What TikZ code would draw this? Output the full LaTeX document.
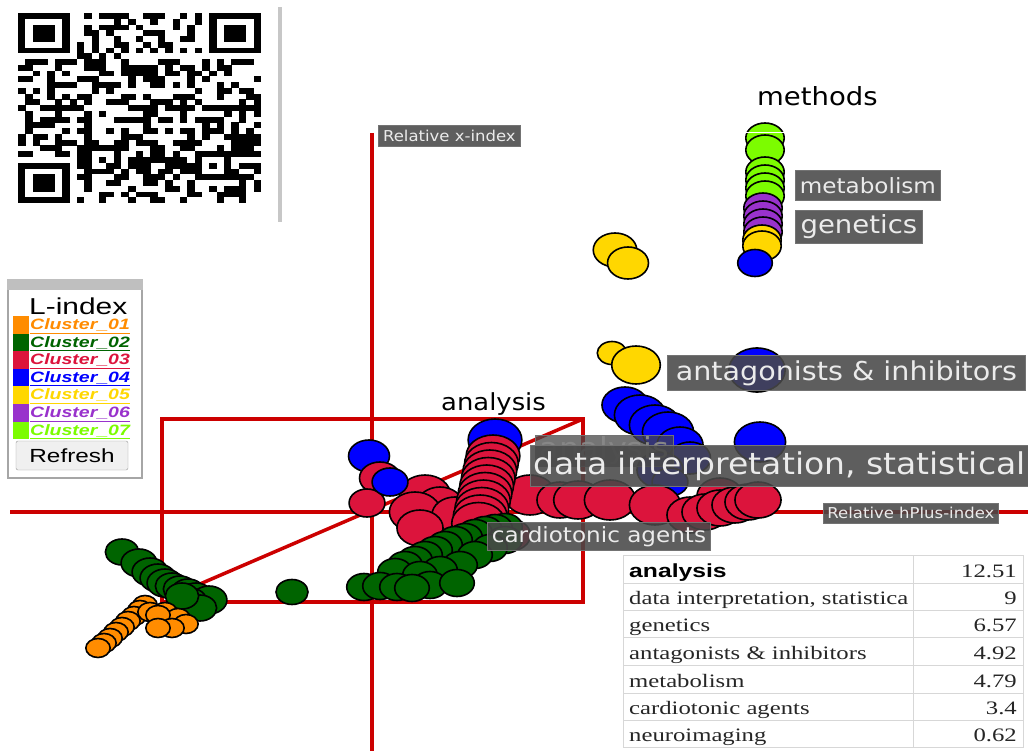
\documentclass[tikz,border=0pt]{standalone}
\usepackage{fontspec}
\usepackage{graphicx}
\newfontfamily\lab{DejaVu Sans}
\newfontfamily\ars{Liberation Sans}
\newfontfamily\tms{Liberation Serif}
\definecolor{cA}{RGB}{255,140,0}
\definecolor{cB}{RGB}{0,100,0}
\definecolor{cC}{RGB}{220,20,60}
\definecolor{cD}{RGB}{0,0,255}
\definecolor{cE}{RGB}{255,215,0}
\definecolor{cF}{RGB}{153,50,204}
\definecolor{cG}{RGB}{124,252,0}
\definecolor{axred}{RGB}{204,0,0}
\definecolor{boxgray}{RGB}{72,72,72}
\definecolor{tblline}{RGB}{215,215,215}
\newcommand\dotat[4]{\draw[dotst,fill=#1] (#2,#3) ellipse [x radius={1.28*#4pt}, y radius={#4pt}];}
\newcommand\hstretch[2]{\scalebox{#1}[1]{#2}}
\newcommand\fs[1]{\fontsize{#1}{#1}\selectfont}
\begin{document}
\begin{tikzpicture}[x=1pt,y=-1pt,
  dotst/.style={draw=black,line width=1.6pt},
  axis/.style={draw=axred,line width=3.5pt},
  lbl/.style={fill=boxgray,fill opacity=0.88,draw=black!55,line width=0.8pt,text=white!92!black,text opacity=1,inner sep=0pt,anchor=north west},
  cl/.style={anchor=base west,inner sep=0pt,font=\ars\bfseries\itshape\fs{15}},
  tb/.style={anchor=base west,inner sep=0pt,text=black!85,font=\tms\fs{19}},
  tn/.style={anchor=base east,inner sep=0pt,text=black!85,font=\tms\fs{19}}]
\useasboundingbox (0,0) rectangle (1028,751);
\fill[white] (0,0) rectangle (1028,751);
% ---------------- QR code ----------------
\pgfmathsetseed{4711}
\foreach \i in {0,...,32}{\foreach \j in {0,...,32}{
  \pgfmathtruncatemacro\skipit{(((\i<8)&&(\j<8))||((\i>24)&&(\j<8))||((\i<8)&&(\j>24))||((\i>23)&&(\i<29)&&(\j>23)&&(\j<29))) ? 1 : 0}
  \ifnum\skipit=0
    \pgfmathtruncatemacro\on{((\i==6)||(\j==6)) ? (mod(\i+\j,2)==0 ? 1 : 0) : (rnd<0.5 ? 1 : 0)}
    \ifnum\on=1 \fill (18+\i*7.36,13+\j*5.76) rectangle ++(7.5,5.9);\fi
  \fi}}
\foreach \a/\b in {0/0,26/0,0/26}{
  \fill (18+\a*7.36,13+\b*5.76) rectangle ++(7*7.36,7*5.76);
  \fill[white] (18+\a*7.36+7.36,13+\b*5.76+5.76) rectangle ++(5*7.36,5*5.76);
  \fill (18+\a*7.36+2*7.36,13+\b*5.76+2*5.76) rectangle ++(3*7.36,3*5.76);}
\fill (18+24*7.36,13+24*5.76) rectangle ++(5*7.36,5*5.76);
\fill[white] (18+25*7.36,13+25*5.76) rectangle ++(3*7.36,3*5.76);
\fill (18+26*7.36,13+26*5.76) rectangle ++(7.36,5.76);
\fill[black!22] (278,7) rectangle (282,222);
% ---------------- legend ----------------
\draw[black!35,line width=1.5pt,fill=white] (8,280) rectangle (142,478);
\fill[black!25] (7,279) rectangle (143,290);
\node[anchor=base west,inner sep=0pt,font=\ars\fs{23}] (lidx) at (29,315) {\hstretch{1.3}{L-index}};
\foreach \c/\k [count=\n from 0] in {cA/01,cB/02,cC/03,cD/04,cE/05,cF/06,cG/07}{
  \fill[\c] (13,316+\n*17.6) rectangle (29,333.6+\n*17.6);
  \node[cl,text=\c] (cl\k) at (30,329.5+\n*17.6) {\hstretch{1.3}{\underline{Cluster\_\k}}};}
\node[draw=black!40,fill=black!6,rounded corners=2pt,minimum width=112pt,minimum height=29pt,inner sep=0pt,font=\ars\fs{19}] (refresh) at (72,455.5) {\hstretch{1.28}{Refresh}};
% ---------------- axes ----------------
\coordinate (xtop) at (372,133);
\coordinate (xbot) at (372,751);
\coordinate (hl) at (10,512);
\coordinate (hr) at (1028,512);
\draw[axis] (xtop) -- (xbot);
\draw[axis] (hl) -- (hr);
\draw[axis] (162,419) rectangle (583,602);
\coordinate (dg1) at (193,587);
\coordinate (dg2) at (583,419);
\draw[axis] (dg1) -- (dg2);
% ---------------- dots ----------------
% bottom-left greens
\foreach \x/\y/\r in {122/552/13,139/563/14,150/572/14,158/578/14,165/583/14,172/586/13,180/589/13,188/592/13,196/596/13,209/600/14,190/601/13,200/608/13,182/596/13}{\dotat{cB}{\x}{\y}{\r}}
% oranges
\foreach \x/\y/\r in {145/605/9.5,140/610/9.5,134/616/9.5,128/621/9.5,122/627/9.5,116/632/9.5,110/638/9.5,104/643/9.5,98/648/9.5,150/612/9.5,165/612/9.5,178/618/9.5,158/615/9.5,186/624/9.5,172/628/9.5,158/628/9.5}{\dotat{cA}{\x}{\y}{\r}}
\dotat{cB}{292}{592}{12.5}
% blues (behind reds)
\foreach \x/\y/\r in {369/456/16,495/440/21,625/405/18,640/415/20,655/425/20,668/432/20,680/445/18,690/458/16,660/470/18,670/482/14,760/442/20,757/370/22}{\dotat{cD}{\x}{\y}{\r}}
% reds
\foreach \x/\y/\r in {380/478/16,367/503/14,425/495/20,440/505/18,415/512/20,455/515/18,420/528/18,510/535/16,530/495/20,560/500/18,578/500/19,610/500/20,655/505/20,720/496/18,690/515/18,705/512/18,720/508/18,735/505/18,748/502/18,758/500/18}{\dotat{cC}{\x}{\y}{\r}}
\foreach \k in {0,...,9}{\dotat{cC}{493-\k*1.6}{456+\k*7.5}{21}}
\dotat{cD}{390}{482}{14}
% green chain
\foreach \x/\y in {505/527,495/528,485/530,475/533,465/537,455/540,445/545,435/550,425/555,415/560,405/565,395/572,505/540,490/548,475/555,460/565,440/570,420/575,364/587,380/586,397/587,430/585,457/583,412/588}{\dotat{cB}{\x}{\y}{13.5}}
% top column
\foreach \x/\y/\r in {612/353/11.5,636/365/19,615/250/17,628/263/16}{\dotat{cE}{\x}{\y}{\r}}
\foreach \y in {138,150,172,180,188,196}{\dotat{cG}{765}{\y}{15}}
\foreach \y in {208,216,224,232}{\dotat{cF}{763}{\y}{15}}
\foreach \y in {240,246}{\dotat{cE}{762}{\y}{15}}
\dotat{cD}{755}{263}{13.5}
\draw[white,line width=1pt] (745,133) -- (790,133);
% ---------------- labels ----------------
\node[anchor=base west,inner sep=0pt,font=\lab\fs{25}] (methods) at (757,106) {\hstretch{1.1}{methods}};
\node[anchor=base west,inner sep=0pt,font=\lab\fs{23.5}] (analysisT) at (441,410) {\hstretch{1.1}{analysis}};
\node[lbl,minimum width=145pt,minimum height=30pt,font=\lab\fs{21}] (metab) at (795,170) {\hstretch{1.1}{metabolism}};
\node[lbl,minimum width=127pt,minimum height=33pt,font=\lab\fs{25}] (genet) at (795,210) {\hstretch{1.1}{genetics}};
\node[lbl,minimum width=358pt,minimum height=35pt,font=\lab\fs{26}] (antag) at (667,355) {\hstretch{1.1}{antagonists \& inhibitors}};
\node[lbl,fill opacity=0.75,text={rgb,255:red,135;green,135;blue,135},minimum width=138pt,minimum height=31pt,font=\lab\fs{29}] (analysisB) at (535,435) {\hstretch{1.1}{analysis}};
\node[lbl,minimum width=498pt,minimum height=41pt,font=\lab\fs{30}] (datai) at (530,445) {\hstretch{1.1}{data interpretation, statistical}};
\node[lbl,minimum width=223pt,minimum height=28pt,font=\lab\fs{21}] (cardio) at (487,522) {\hstretch{1.1}{cardiotonic agents}};
\node[lbl,minimum width=142pt,minimum height=21pt,font=\lab\fs{15}] (xlab) at (378,125) {\hstretch{1.1}{Relative x-index}};
\node[lbl,minimum width=175pt,minimum height=20pt,font=\lab\fs{15}] (hlab) at (823,503) {\hstretch{1.1}{Relative hPlus-index}};
% ---------------- table ----------------
\draw[tblline,fill=white,line width=1pt] (623,555) rectangle (1023,747);
\foreach \y in {583,610,637,665,693,720}{\draw[tblline,line width=1pt] (623,\y) -- (1023,\y);}
\draw[tblline,line width=1pt] (913,555) -- (913,747);
\node[anchor=base west,inner sep=0pt,font=\ars\bfseries\fs{19}] (t1) at (629,577) {\hstretch{1.3}{analysis}};
\node[tn] (v1) at (1017,577) {\hstretch{1.3}{12.51}};
\foreach \t/\v/\b [count=\n from 2] in {{data interpretation, statistica}/9/604,genetics/6.57/631,{antagonists \& inhibitors}/4.92/659,metabolism/4.79/687,{cardiotonic agents}/3.4/714,neuroimaging/0.62/741}{
  \node[tb] (t\n) at (629,\b) {\hstretch{1.3}{\t}};
  \node[tn] (v\n) at (1017,\b) {\hstretch{1.3}{\v}};}
\end{tikzpicture}
\end{document}
